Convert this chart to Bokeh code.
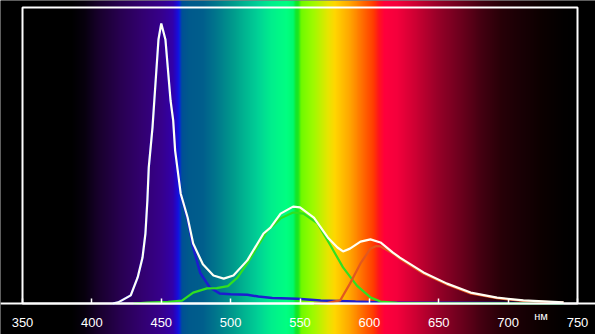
import numpy as np
from bokeh.plotting import figure
from bokeh.models import LinearAxis, FixedTicker
from bokeh.core.properties import value
from bokeh.embed import file_html
from bokeh.resources import INLINE

# ---- data (normalized spectral intensity vs wavelength, nm) ----
white_nm = [415, 419, 428, 433, 436.5, 438.6, 440, 441, 443.7, 445, 448, 450, 453, 456.7, 458.6, 460, 464, 469, 473, 480,
            487.6, 495, 502, 512, 523.7, 528.7, 536, 545, 550, 560, 570, 577, 581, 586, 593.6, 600.8, 608, 617, 622,
            639, 656, 673, 692, 711, 740]
white_val = [0.0, 0.004, 0.029, 0.093, 0.164, 0.25, 0.368, 0.486, 0.629, 0.725, 0.943, 1.0, 0.943, 0.725, 0.654, 0.546,
             0.393, 0.307, 0.214, 0.14, 0.1, 0.089, 0.1, 0.154, 0.25, 0.271, 0.321, 0.346, 0.343, 0.307, 0.236, 0.2,
             0.186, 0.196, 0.221, 0.229, 0.218, 0.182, 0.164, 0.111, 0.071, 0.039, 0.021, 0.011, 0.004]

blue_nm = [415, 419, 428, 433, 436.5, 438.6, 440, 441, 443.7, 445, 448, 450, 453, 456.7, 458.6, 460, 464, 469, 473, 478,
           485, 492, 500, 512, 520, 530, 548, 565, 590, 610, 650, 700, 740]
blue_val = [0.0, 0.004, 0.029, 0.093, 0.164, 0.25, 0.368, 0.486, 0.629, 0.725, 0.943, 1.0, 0.943, 0.725, 0.654, 0.546,
            0.39, 0.3, 0.2, 0.11, 0.057, 0.036, 0.033, 0.031, 0.025, 0.02, 0.017, 0.011, 0.007, 0.004, 0.003, 0.002, 0.001]

green_nm = [430, 440, 455, 465, 473, 483, 490, 498, 505, 512, 519, 526.6, 531, 536, 545, 552.5, 562.6, 572, 581, 591,
            601, 608, 620, 650, 740]
green_val = [0.0, 0.003, 0.006, 0.01, 0.039, 0.054, 0.055, 0.062, 0.093, 0.143, 0.2, 0.261, 0.28, 0.304, 0.325, 0.321,
             0.286, 0.207, 0.129, 0.064, 0.021, 0.007, 0.002, 0.001, 0.0]

red_nm = [560, 570, 579, 586, 593.6, 600.8, 605, 608, 617, 622, 639, 656, 673, 692, 711, 740]
red_val = [0.0, 0.002, 0.011, 0.071, 0.143, 0.196, 0.205, 0.204, 0.178, 0.16, 0.107, 0.068, 0.036, 0.019, 0.009, 0.003]

tick_nm = [350, 400, 450, 500, 550, 600, 650, 700, 750]
unit_label = "нм"

# background spectrum colour stops (wavelength, r, g, b)
spec_nm = [300, 385, 395, 405, 420, 435, 450, 458, 461, 463, 465, 470, 480, 490, 500, 510, 520, 530, 540, 545, 547, 549,
           551, 560, 570, 575, 585, 595, 603, 607, 611, 620, 635, 650, 665, 680, 695, 710, 725, 740, 750, 800]
spec_r = [0, 0, 8, 25, 40, 50, 55, 50, 30, 10, 0, 0, 0, 0, 0, 0, 0, 0, 0, 0, 20, 30,
          110, 160, 230, 255, 255, 255, 255, 255, 255, 245, 200, 150, 110, 70, 40, 25, 12, 3, 0, 0]
spec_g = [0, 0, 0, 0, 0, 0, 0, 0, 10, 30, 80, 90, 95, 120, 150, 180, 210, 240, 255, 250, 230, 230,
          250, 250, 230, 215, 170, 110, 60, 20, 0, 0, 0, 0, 0, 0, 0, 0, 0, 0, 0, 0]
spec_b = [0, 0, 15, 45, 80, 110, 140, 170, 210, 230, 150, 140, 140, 140, 140, 145, 150, 140, 130, 110, 40, 30,
          0, 0, 0, 0, 0, 0, 0, 30, 60, 60, 50, 40, 30, 18, 8, 5, 0, 0, 0, 0]

# ---- layout ----
W, H = 595, 334
X0, X1 = 334.14, 762.97
Y0, Y1 = -0.1107, 1.0821
BOX_TOP = 1.0571

p = figure(width=W, height=H, x_range=(X0, X1), y_range=(Y0, Y1), x_axis_type=None, y_axis_type=None,
           toolbar_location=None, output_backend="svg", min_border=0,
           background_fill_color="black", border_fill_color="black", outline_line_color=None)

# spectrum background image
n = 1200
xs = np.linspace(X0, X1, n)
r = np.interp(xs, spec_nm, spec_r).astype(np.uint32)
g = np.interp(xs, spec_nm, spec_g).astype(np.uint32)
b = np.interp(xs, spec_nm, spec_b).astype(np.uint32)
row = (255 << 24) | (b << 16) | (g << 8) | r
img = np.tile(row, (2, 1)).astype(np.uint32)
p.image_rgba(image=[img], x=X0, y=Y0, dw=X1 - X0, dh=Y1 - Y0)

# frame box
p.quad(left=[tick_nm[0]], right=[tick_nm[-1]], bottom=[0], top=[BOX_TOP], fill_alpha=0,
       line_color="white", line_width=2)

# curves
p.line(blue_nm, blue_val, line_color="#1c1cd0", line_width=2.5)
p.line(green_nm, green_val, line_color="#30e020", line_width=2.2)
p.line(red_nm, red_val, line_color="#e2581e", line_width=2.2)
p.line(white_nm, white_val, line_color="#fffff4", line_width=2.2)

# axis
ax = LinearAxis(fixed_location=0, ticker=FixedTicker(ticks=tick_nm),
                axis_line_color="white", axis_line_width=2,
                major_tick_in=5, major_tick_out=0, major_tick_line_color="white", major_tick_line_width=1.5,
                minor_tick_line_color=None,
                major_label_text_color="white", major_label_text_font="Liberation Sans",
                major_label_text_font_size="13px", major_label_standoff=14)
p.add_layout(ax, "below")

p.text(x=[723.7], y=[-0.046], text=[unit_label], text_color="white", text_font=value("Liberation Sans"),
       text_font_size="11px", text_align="center", text_baseline="middle")

open("out.html", "w").write(file_html(p, INLINE))
